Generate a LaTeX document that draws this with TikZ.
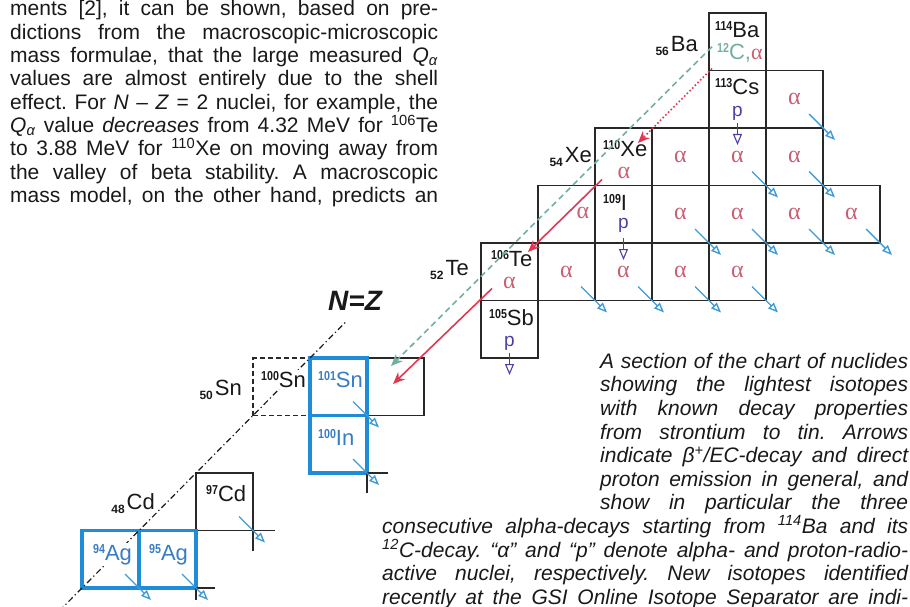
\documentclass[tikz,border=0pt]{standalone}
\usepackage{fontspec}
\setmainfont{Liberation Sans}
\newfontfamily\greekserif{Liberation Serif}
\newfontfamily\numfont[FakeStretch=0.82]{Liberation Sans}
\usetikzlibrary{arrows.meta}
\frenchspacing

\definecolor{textcol}{RGB}{25,25,25}
\definecolor{gridline}{RGB}{40,40,40}
\definecolor{gsiblue}{RGB}{30,140,215}
\definecolor{bluetext}{RGB}{55,125,195}
\definecolor{alphacol}{RGB}{200,95,115}
\definecolor{pcol}{RGB}{75,65,165}
\definecolor{betacol}{RGB}{65,155,215}
\definecolor{carboncol}{RGB}{115,175,160}
\definecolor{alphared}{RGB}{225,55,80}

\newcommand{\mass}[1]{\raisebox{7pt}{\numfont\bfseries\fontsize{13}{13}\selectfont #1}}
\newcommand{\zsub}[1]{\raisebox{-4pt}{\bfseries\fontsize{12}{12}\selectfont #1}\kern2pt}

\tikzset{
  bodytext/.style={anchor=north west, inner sep=0pt, text width=428pt, align=justify, text=textcol, font=\fontsize{21}{23.33}\selectfont},
  captext/.style={bodytext, text width=526pt, font=\fontsize{21}{23.6}\selectfont\itshape},
  cell/.style={draw=gridline, line width=1.3pt, minimum width=57pt, minimum height=57.5pt, inner sep=0pt, outer sep=0pt, text=alphacol, font=\greekserif\fontsize{24}{24}\selectfont},
  newcell/.style={cell, draw=gsiblue, line width=3.4pt},
  predcell/.style={cell, dash pattern=on 5pt off 3pt},
  isolabel/.style={anchor=base west, inner sep=0pt, text=textcol, font=\fontsize{22}{22}\selectfont},
  newlabel/.style={isolabel, text=bluetext},
  elem/.style={anchor=base east, inner sep=0pt, text=textcol, font=\fontsize{22}{22}\selectfont},
  alphalab/.style={inner sep=0pt, text=alphacol, font=\greekserif\fontsize{24}{24}\selectfont},
  plab/.style={anchor=base, inner sep=0pt, text=pcol, font=\fontsize{19}{19}\selectfont},
  nzlabel/.style={anchor=base, inner sep=0pt, text=textcol, font=\fontsize{28}{28}\selectfont\bfseries\itshape},
  gridl/.style={draw=gridline, line width=1.3pt},
  nzline/.style={draw=textcol, line width=1.2pt, dash pattern=on 6pt off 3pt on 1.2pt off 3pt},
  betaarrow/.style={draw=betacol, line width=1.4pt, -{Triangle[open, length=10pt, width=8pt]}},
  parrow/.style={draw=pcol, line width=1.1pt, -{Triangle[open, length=11pt, width=9pt]}},
  alphaarrow/.style={draw=alphared, line width=1.6pt, -{Stealth[length=12pt, width=10pt]}},
  alphadots/.style={alphaarrow, dash pattern=on 1.6pt off 2.2pt},
  carbonarrow/.style={draw=carboncol, line width=1.6pt, dash pattern=on 6pt off 4pt, -{Stealth[length=12pt, width=10pt]}}
}

\begin{document}
\begin{tikzpicture}[x=1pt, y=-1pt]
  \path[use as bounding box] (0,0) rectangle (910,607);
  \clip (0,0) rectangle (910,607);

  % running text of the page
  \node[bodytext] (para) at (10,-0.6) {\parindent=0pt\parfillskip=0pt\hyphenpenalty=10000\exhyphenpenalty=10000\tolerance=10000
    \strut ments [2], it can be shown, based on pre-\linebreak
    dictions from the macroscopic-microscopic\linebreak
    mass formulae, that the large measured \textit{Q}\textsubscript{\textit{α}}\linebreak
    values are almost entirely due to the shell\linebreak
    effect. For \textit{N} – \textit{Z} = 2 nuclei, for example, the\linebreak
    \textit{Q}\textsubscript{\textit{α}} value \textit{decreases} from 4.32 MeV for \textsuperscript{106}Te\linebreak
    to 3.88 MeV for \textsuperscript{110}Xe on moving away from\linebreak
    the valley of beta stability. A macroscopic\linebreak
    mass model, on the other hand, predicts an\par};

  % figure caption
  \node[captext] (caption) at (382,351.5) {\parindent=0pt\parfillskip=0pt\hyphenpenalty=10000\exhyphenpenalty=10000\tolerance=10000
    \parshape 8 218pt 308pt 218pt 308pt 218pt 308pt 218pt 308pt 218pt 308pt 218pt 308pt 218pt 308pt 0pt 526pt
    \strut A section of the chart of nuclides\linebreak
    showing the lightest isotopes\linebreak
    with known decay properties\linebreak
    from strontium to tin. Arrows\linebreak
    indicate β\textsuperscript{+}/EC-decay and direct\linebreak
    proton emission in general, and\linebreak
    show in particular the three\linebreak
    consecutive alpha-decays starting from \textsuperscript{114}Ba and its\linebreak
    \textsuperscript{12}C-decay. “α” and “p” denote alpha- and proton-radio-\linebreak
    active nuclei, respectively. New isotopes identified\linebreak
    recently at the GSI Online Isotope Separator are indi-\par};

  % chart of nuclides, one unit = one cell
  \begin{scope}[shift={(595,13)}, x=57pt, y=-57.5pt]
    \node[cell] (Ba114) at (2.5,0.5) {};
    \node[cell] (Cs113) at (2.5,1.5) {};
    \node[cell] (Xe110) at (0.5,2.5) {};
    \node[cell] (I108) at (-0.5,3.5) {};
    \node[cell] (I109) at (0.5,3.5) {};
    \node[cell] (Te106) at (-1.5,4.5) {};
    \node[cell] (Sb105) at (-1.5,5.5) {};
    \node[cell] (Sn102) at (-3.5,6.5) {};
    \node[cell] (Cd97) at (-6.5,8.5) {};
    \foreach \nm/\xc/\yc in {Cs114/3.5/1.5, Xe111/1.5/2.5, Xe112/2.5/2.5, Xe113/3.5/2.5,
        I110/1.5/3.5, I111/2.5/3.5, I112/3.5/3.5, I113/4.5/3.5,
        Te107/-0.5/4.5, Te108/0.5/4.5, Te109/1.5/4.5, Te110/2.5/4.5}
      \node[cell] (\nm) at (\xc,\yc) {α};

    % predicted and newly identified isotopes
    \node[predcell] (Sn100) at (-5.5,6.5) {};
    \node[newcell] (Sn101) at (-4.5,6.5) {};
    \node[newcell] (In100) at (-4.5,7.5) {};
    \node[newcell] (Ag94) at (-8.5,9.5) {};
    \node[newcell] (Ag95) at (-7.5,9.5) {};

    % open corners at the edge of the chart
    \draw[gridl] ([xshift=22pt]Cd97.south east) -- (Cd97.south east) -- ([yshift=-20pt]Cd97.south east);
    \draw[gridl] ([xshift=21pt]In100.south east) -- (In100.south east) -- ([yshift=-20pt]In100.south east);
    \draw[gridl] ([xshift=19pt]Ag95.south east) -- (Ag95.south east) -- ([yshift=-12pt]Ag95.south east);

    % N = Z line
    \coordinate (nztop) at (-4.35,5.35);
    \coordinate (nzbot) at (-9.4,10.4);
    \draw[nzline] (nzbot) -- (nztop);
    \node[nzlabel] (nzlab) at ([shift={(8pt,10pt)}]nztop) {N=Z};

    % element labels
    \node[elem] (Ba-z) at ([shift={(-11pt,-39pt)}]Ba114.north west) {\zsub{56}Ba};
    \node[elem] (Xe-z) at ([shift={(-3pt,-34pt)}]Xe110.north west) {\zsub{54}Xe};
    \node[elem] (Te-z) at ([shift={(-12pt,-32pt)}]Te106.north west) {\zsub{52}Te};
    \node[elem] (Sn-z) at ([shift={(-11pt,-37pt)}]Sn100.north west) {\zsub{50}Sn};
    \node[elem] (Cd-z) at ([shift={(-41pt,-36pt)}]Cd97.north west) {\zsub{48}Cd};

    % isotope labels
    \node[isolabel] (Ba114-a) at ([shift={(6pt,-25pt)}]Ba114.north west) {\mass{114}Ba};
    \node[isolabel] (Ba114-b) at ([shift={(8pt,-47pt)}]Ba114.north west) {\textcolor{carboncol}{\mass{12}C,}\textcolor{alphacol}{\greekserif α}};
    \node[isolabel] (Cs113-a) at ([shift={(6pt,-24.5pt)}]Cs113.north west) {\mass{113}Cs};
    \node[plab] (Cs113-p) at ([yshift=-17pt]Cs113.center) {p};
    \node[isolabel] (Xe110-a) at ([shift={(8pt,-29pt)}]Xe110.north west) {\mass{110}Xe};
    \node[alphalab] (Xe110-al) at ([shift={(0.5pt,-16pt)}]Xe110.center) {α};
    \node[alphalab] (I108-al) at ([shift={(16.5pt,1pt)}]I108.center) {α};
    \node[isolabel] (I109-a) at ([shift={(8pt,-24.5pt)}]I109.north west) {\mass{109}I};
    \node[plab] (I109-p) at ([yshift=-14pt]I109.center) {p};
    \node[isolabel] (Te106-a) at ([shift={(10pt,-23pt)}]Te106.north west) {\mass{106}Te};
    \node[alphalab] (Te106-al) at ([shift={(0pt,-11pt)}]Te106.center) {α};
    \node[isolabel] (Sb105-a) at ([shift={(8pt,-24.5pt)}]Sb105.north west) {\mass{105}Sb};
    \node[plab] (Sb105-p) at ([yshift=-17pt]Sb105.center) {p};
    \node[isolabel, fill=white, inner sep=1pt] (Sn100-a) at ([shift={(7pt,-29.5pt)}]Sn100.north west) {\mass{100}Sn};
    \node[newlabel] (Sn101-a) at ([shift={(8pt,-29.5pt)}]Sn101.north west) {\mass{101}Sn};
    \node[newlabel] (In100-a) at ([shift={(8pt,-29.5pt)}]In100.north west) {\mass{100}In};
    \node[isolabel] (Cd97-a) at ([shift={(10pt,-28pt)}]Cd97.north west) {\mass{97}Cd};
    \node[newlabel, fill=white, inner sep=1pt] (Ag94-a) at ([shift={(10pt,-29.5pt)}]Ag94.north west) {\mass{94}Ag};
    \node[newlabel] (Ag95-a) at ([shift={(10pt,-29.5pt)}]Ag95.north west) {\mass{95}Ag};

    % beta+/EC decays
    \foreach \nm in {Cs114, Xe112, Xe113, I110, I111, I112, I113, Te107, Te108, Te109, Te110, Sn101, In100, Cd97, Ag94, Ag95}
      \draw[betaarrow] ([shift={(-14pt,14pt)}]\nm.south east) -- ([shift={(12pt,-12pt)}]\nm.south east);
    % proton emission
    \foreach \nm in {Cs113, I109, Sb105}
      \draw[parrow] ([yshift=5pt]\nm.south) -- ([yshift=-17pt]\nm.south);
    % 12C emission and the alpha chain from 114Ba
    \draw[carbonarrow] ([shift={(3pt,-5pt)}]Ba114.west) -- ([shift={(-33pt,-8pt)}]Sn102.north east);
    \draw[alphadots] ([shift={(3pt,2pt)}]Ba114.south west) -- ([shift={(-14pt,-15pt)}]Xe110.north east);
    \draw[alphaarrow] ([shift={(7pt,6pt)}]Xe110.south west) -- ([shift={(-10pt,-9pt)}]Te106.north east);
    \draw[alphaarrow] ([shift={(11pt,12pt)}]Te106.south west) -- ([shift={(-31pt,-26pt)}]Sn102.north east);
  \end{scope}
\end{tikzpicture}
\end{document}
